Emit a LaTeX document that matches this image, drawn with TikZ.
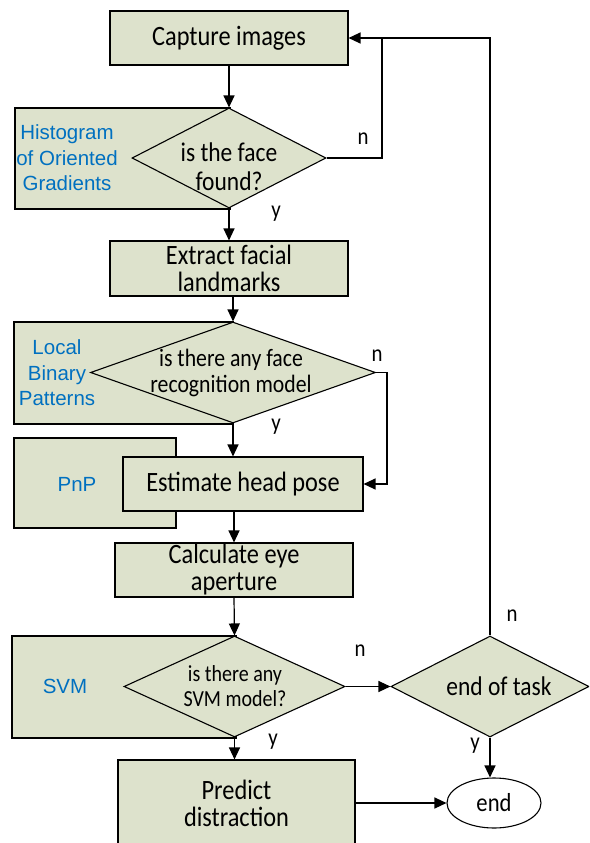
\documentclass[tikz,border=0pt]{standalone}
\usepackage{fontspec}
\setmainfont{Carlito}[FakeStretch=0.87]
\newfontfamily\arialf{Liberation Sans}
\usetikzlibrary{shapes.geometric,arrows.meta}
\definecolor{boxfill}{RGB}{221,226,204}
\definecolor{bluetxt}{RGB}{0,112,192}
\begin{document}
\begin{tikzpicture}[x=1pt,y=-1pt,
  stepbox/.style={draw=black, line width=1.1pt, fill=boxfill, rectangle, inner sep=0pt, align=center,
    font=\fontsize{28}{27}\selectfont},
  backbox/.style={draw=black, line width=1.1pt, fill=boxfill, rectangle, inner sep=0pt},
  dia/.style={draw=black, line width=1.1pt, fill=boxfill, diamond, inner sep=0pt},
  bluelab/.style={text=bluetxt, align=center, inner sep=0pt, font=\arialf\fontsize{20.5}{25.5}\selectfont},
  dtext/.style={align=center, inner sep=0pt},
  yn/.style={inner sep=0pt, font=\fontsize{24}{24}\selectfont},
  arr/.style={-{Triangle[length=12pt,width=11pt]}, line width=1.2pt},
  ln/.style={line width=1.2pt}]
\useasboundingbox (0,0) rectangle (589,843);
\clip (0,0) rectangle (589,843);
\fill[white] (0,0) rectangle (589,843);

% background method boxes
\node[backbox, minimum width=215pt, minimum height=101pt] (hogbox) at (122.5,158.5) {};
\node[backbox, minimum width=219pt, minimum height=102pt] (lbpbox) at (123.5,373) {};
\node[backbox, minimum width=162pt, minimum height=90pt] (pnpbox) at (95,483) {};
\node[backbox, minimum width=224pt, minimum height=102pt] (svmbox) at (124,687) {};

% process boxes
\node[stepbox, minimum width=238pt, minimum height=54pt] (cap) at (229,38) {Capture images};
\node[stepbox, minimum width=238pt, minimum height=55pt] (ext) at (229,268.5) {Extract facial\\landmarks};
\node[stepbox, minimum width=240pt, minimum height=54pt] (head) at (243,484) {Estimate head pose};
\node[stepbox, minimum width=238pt, minimum height=54pt] (calc) at (234,570) {Calculate eye\\aperture};
\node[stepbox, minimum width=237pt, minimum height=86pt] (pred) at (236.5,803) {Predict\\distraction};

% diamonds
\node[dia, minimum width=194pt, minimum height=100pt] (d1) at (229,158) {};
\node[dia, minimum width=285pt, minimum height=101pt] (d2) at (233,372.5) {};
\node[dia, minimum width=221pt, minimum height=101pt] (d3) at (234.5,686.5) {};
\node[dia, minimum width=198pt, minimum height=101pt] (eot) at (490,686.5) {};
\node[draw=black, line width=1.1pt, fill=white, ellipse, minimum width=94pt, minimum height=50pt, inner sep=0pt,
  font=\fontsize{26}{26}\selectfont] (end) at (494,803) {end};

% diamond texts
\node[dtext, font=\fontsize{27}{29}\selectfont] (d1t) at (229,167) {is the face\\found?};
\node[dtext, font=\fontsize{25}{26}\selectfont] (d2t) at (231,373) {is there any face\\recognition model};
\node[dtext, font=\fontsize{23}{24.5}\selectfont] (d3t) at (235,686) {is there any\\SVM model?};
\node[dtext, font=\fontsize{27}{27}\selectfont] (eott) at (499,686) {end of task};

% blue method labels
\node[bluelab] (hog) at (67,158) {Histogram\\of Oriented\\Gradients};
\node[bluelab] (lbp) at (57,373) {Local\\Binary\\Patterns};
\node[bluelab] (pnp) at (77,484) {PnP};
\node[bluelab] (svm) at (65,686) {SVM};

% connectors
\coordinate (j1) at (382,38);
\draw[arr] (cap.south) -- (d1.north);
\draw[ln] (d1.east) -| (j1);
\draw[arr] (eot.north) |- (cap.east);
\draw[arr] (d1.south) -- (ext.north);
\draw[arr] (ext.south -| d2.north) -- (d2.north);
\draw[arr] (d2.south) -- (d2.south |- head.north);
\coordinate (j2) at (387,372.5);
\draw[arr] (d2.east) -- (j2) |- (head.east);
\draw[arr] (head.south -| calc.north) -- (calc.north);
\draw[arr] (calc.south) -- (d3.north);
\draw[arr] (d3.south) -- (d3.south |- pred.north);
\draw[arr] (d3.east) -- (eot.west);
\draw[arr] (eot.south) -- (eot.south |- end.north);
\draw[arr] (pred.east) -- (end.west);

% y / n labels
\node[yn] (n1) at (363,139) {n};
\node[yn] (y1) at (276,214) {y};
\node[yn] (n2) at (377,356) {n};
\node[yn] (y2) at (276,427) {y};
\node[yn] (n3) at (360,651) {n};
\node[yn] (y3) at (273,742) {y};
\node[yn] (n4) at (512,616) {n};
\node[yn] (y4) at (475,746) {y};
\end{tikzpicture}
\end{document}
